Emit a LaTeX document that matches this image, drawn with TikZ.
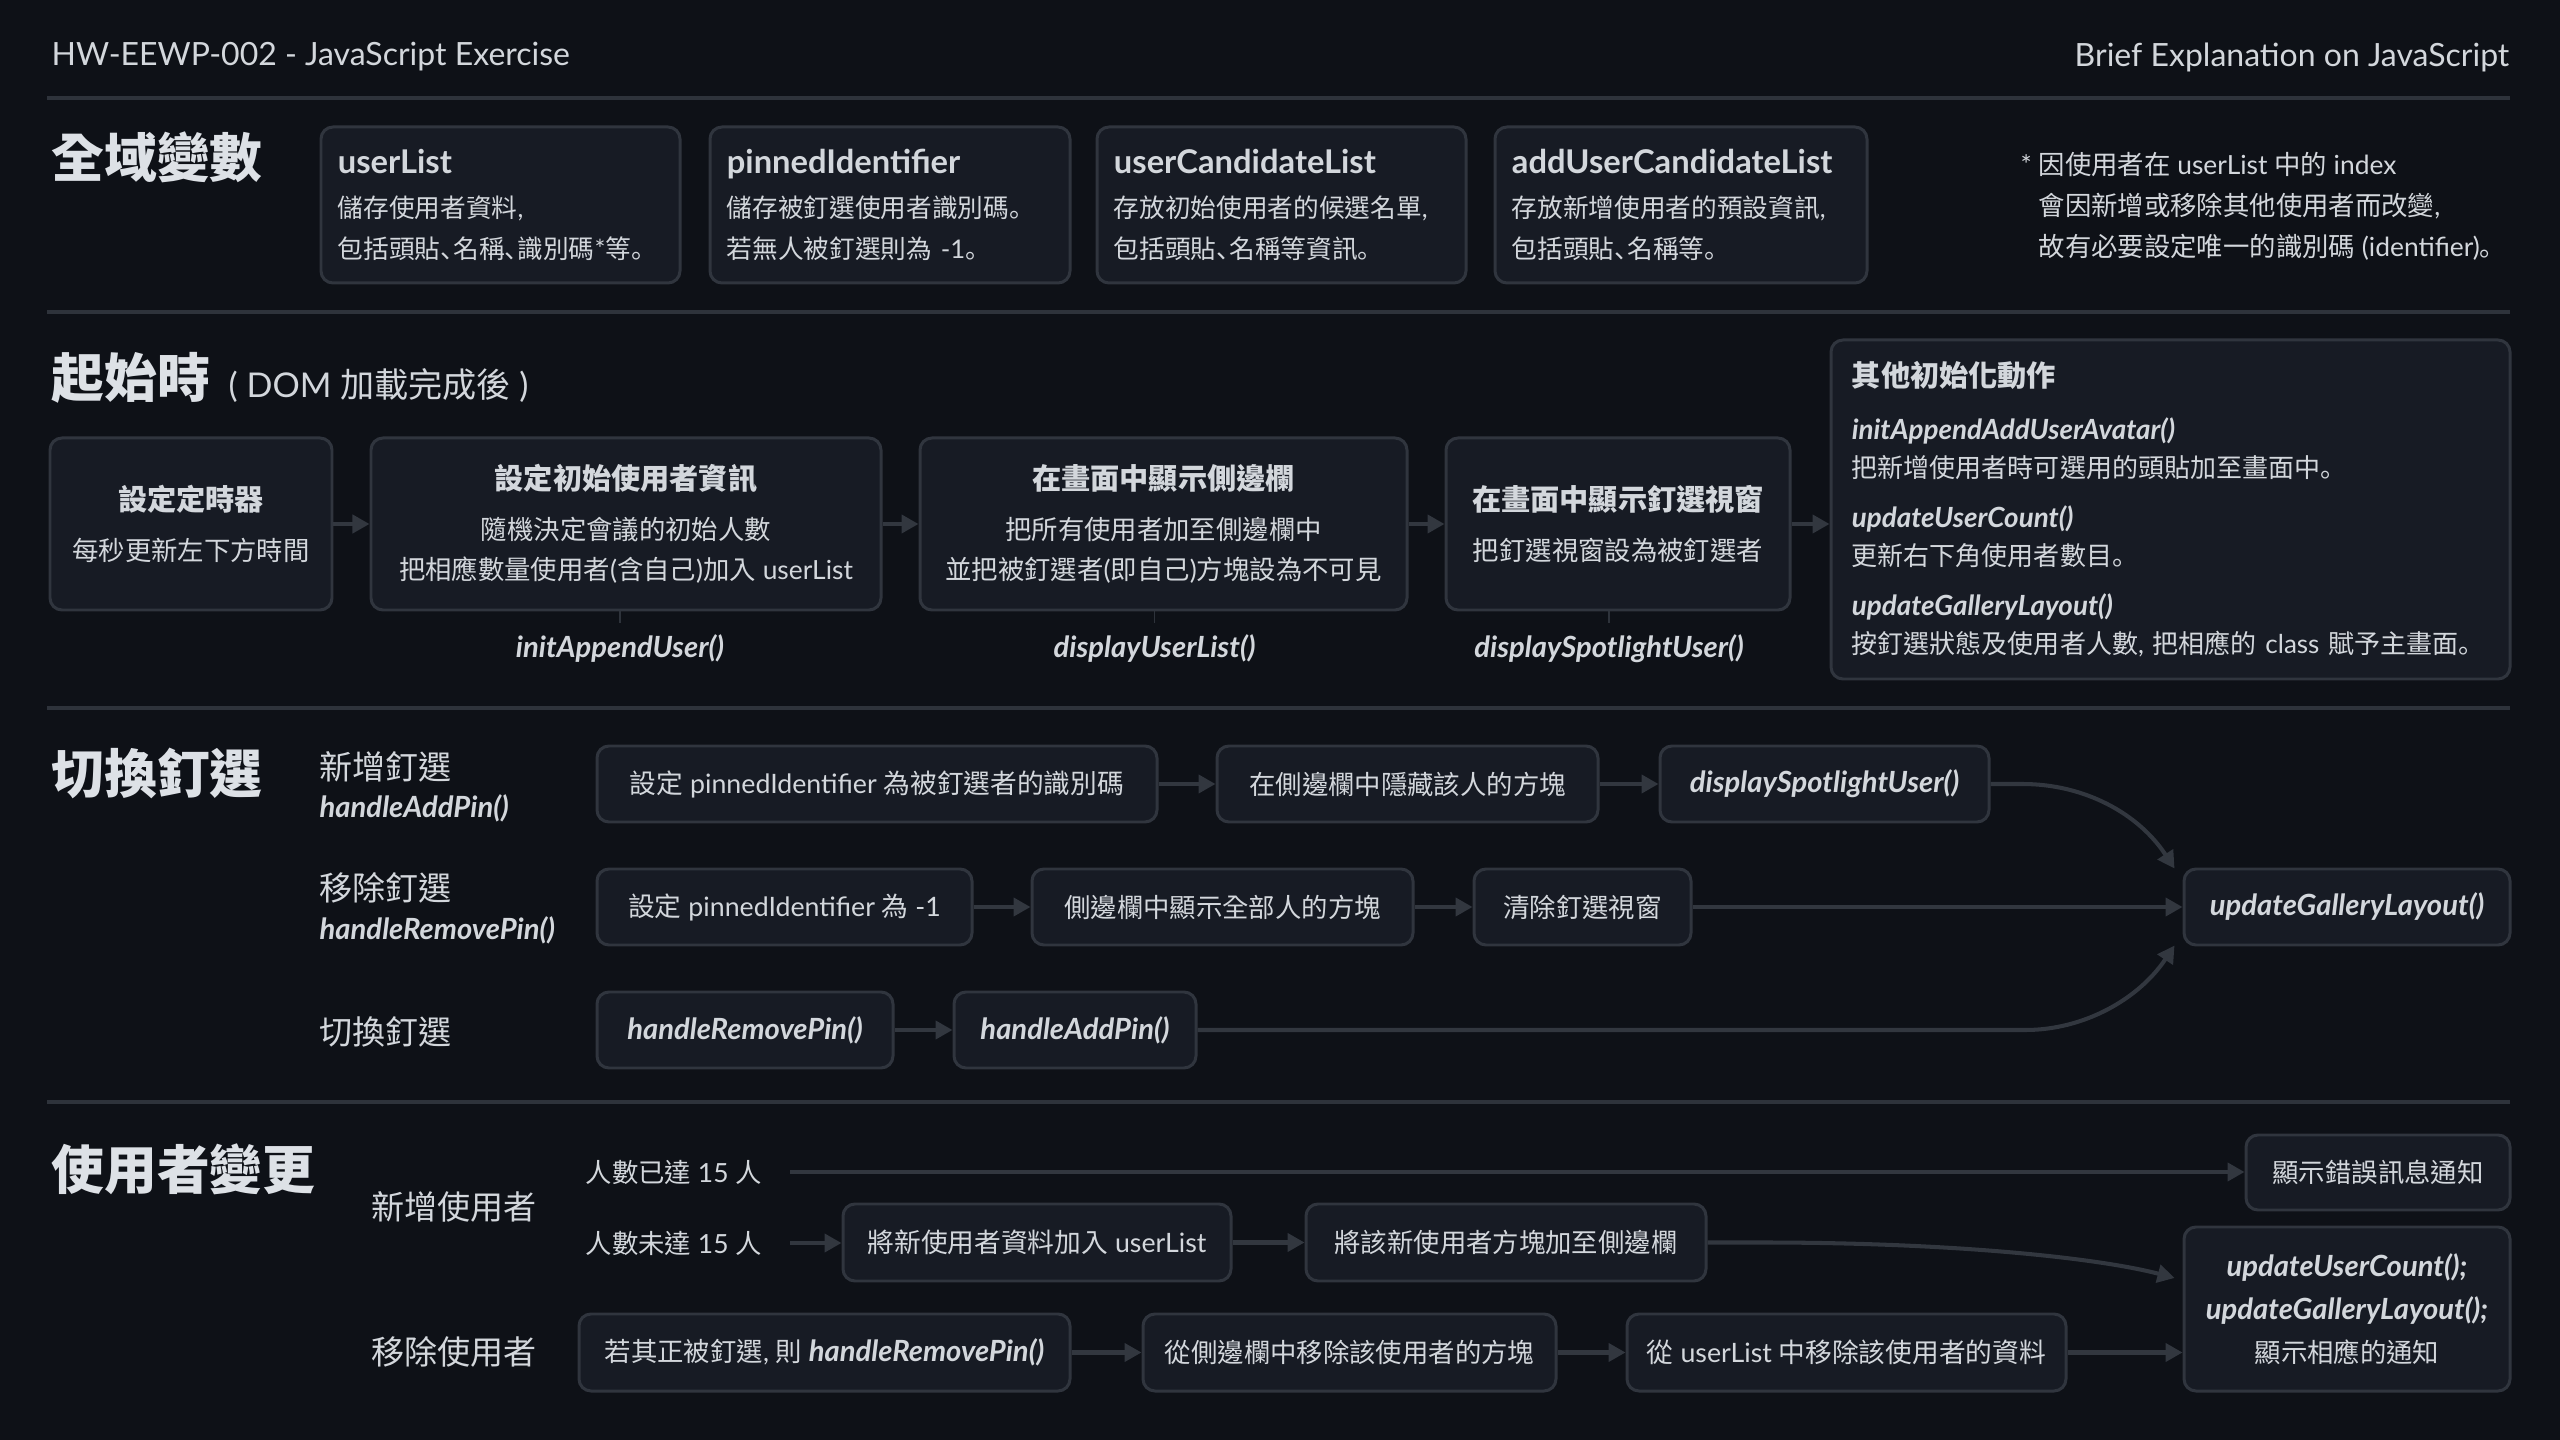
\documentclass[tikz,border=0pt]{standalone}
\usepackage{fontspec}
\setmainfont{Lato}
\newfontfamily\cjkfont{Noto Sans CJK TC}
\newfontfamily\cjkpfont{Noto Sans CJK SC}[RawFeature=+halt]
\usetikzlibrary{arrows.meta,calc}
% automatic switch to the CJK fonts for CJK characters
\XeTeXinterchartokenstate=1
\newXeTeXintercharclass\mycjk
\newXeTeXintercharclass\mycjkp
\newcount\cjkc
\cjkc="2E80 \loop\XeTeXcharclass\cjkc=\mycjk \ifnum\cjkc<"9FFF \advance\cjkc by 1 \repeat
\cjkc="FF00 \loop\XeTeXcharclass\cjkc=\mycjk \ifnum\cjkc<"FFEF \advance\cjkc by 1 \repeat
\cjkc="3000 \loop\XeTeXcharclass\cjkc=\mycjkp \ifnum\cjkc<"303F \advance\cjkc by 1 \repeat
\XeTeXinterchartoks 0 \mycjk = {\begingroup\cjkfont}
\XeTeXinterchartoks 4095 \mycjk = {\begingroup\cjkfont}
\XeTeXinterchartoks \mycjk 0 = {\endgroup}
\XeTeXinterchartoks \mycjk 4095 = {\endgroup}
\XeTeXinterchartoks 0 \mycjkp = {\begingroup\cjkpfont}
\XeTeXinterchartoks 4095 \mycjkp = {\begingroup\cjkpfont}
\XeTeXinterchartoks \mycjkp 0 = {\endgroup}
\XeTeXinterchartoks \mycjkp 4095 = {\endgroup}
\XeTeXinterchartoks \mycjk \mycjkp = {\endgroup\begingroup\cjkpfont}
\XeTeXinterchartoks \mycjkp \mycjk = {\endgroup\begingroup\cjkfont}
\newcommand\fsz[2]{\fontsize{#1}{#2}\selectfont}
\definecolor{bg}{HTML}{0E1117}
\definecolor{bx}{HTML}{171B24}
\definecolor{bd}{HTML}{30353E}
\definecolor{ar}{HTML}{32373F}
\definecolor{rl}{HTML}{2E333B}
\definecolor{tx}{HTML}{D3D7DC}
\definecolor{tt}{HTML}{DDE1E6}
\begin{document}
\begin{tikzpicture}[x=0.01cm,y=-0.01cm,
  every node/.style={text=tx, inner sep=0pt},
  sz/.style 2 args={minimum width=#1*0.01cm, minimum height=#2*0.01cm},
  box/.style={draw=bd, fill=bx, line width=0.85pt, rounded corners=0.12cm, align=center, font=\fsz{7.5pt}{11pt}},
  fnbox/.style={box, font=\fsz{8.3pt}{10pt}\bfseries\itshape},
  arr/.style={draw=ar, line width=1.15pt, -{Triangle[length=0.17cm,width=0.18cm]}},
  rule/.style={draw=rl, line width=1.2pt},
  tick/.style={draw=rl, line width=0.5pt},
  fn/.style={font=\fsz{8.3pt}{10pt}\bfseries\itshape},
  sect/.style={anchor=west, font=\fsz{15pt}{18pt}\bfseries, text=tt},
  lbl/.style={anchor=west, font=\fsz{9.4pt}{12pt}},
  sm/.style={anchor=west, font=\fsz{7.5pt}{10pt}},
  gv/.style={box, align=left, font=\fsz{7.3pt}{11.7pt}},
  gvt/.style={},
]
\useasboundingbox (0,0) rectangle (2560,1440);
\fill[bg] (0,0) rectangle (2560,1440);

% header
\node[anchor=west, font=\fsz{9.1pt}{11pt}] (hl) at (51,57) {HW-EEWP-002 - JavaScript Exercise};
\node[anchor=east, font=\fsz{9.1pt}{11pt}] (hr) at (2510,57) {Brief Explanation on JavaScript};
\draw[rule] (47,98) -- (2510,98);
\draw[rule] (47,312) -- (2510,312);
\draw[rule] (47,708) -- (2510,708);
\draw[rule] (47,1102) -- (2510,1102);

% ---- section 1
\node[sect] (t1) at (51,157) {全域變數};
\node[gv, sz={359}{156}, text width=3.25cm] (gv1) at (500.5,205)
  {{\fsz{9.3pt}{11.7pt}\bfseries userList}\\[0.6pt]儲存使用者資料,\\包括頭貼、名稱、識別碼*等。};
\node[gv, sz={360}{156}, text width=3.26cm] (gv2) at (890,205)
  {{\fsz{9.3pt}{11.7pt}\bfseries pinnedIdentifier}\\[0.6pt]儲存被釘選使用者識別碼。\\若無人被釘選則為 -1。};
\node[gv, sz={369}{156}, text width=3.35cm] (gv3) at (1281.5,205)
  {{\fsz{9.3pt}{11.7pt}\bfseries userCandidateList}\\[0.6pt]存放初始使用者的候選名單,\\包括頭貼、名稱等資訊。};
\node[gv, sz={372}{156}, text width=3.38cm] (gv4) at (1681,205)
  {{\fsz{9.3pt}{11.7pt}\bfseries addUserCandidateList}\\[0.6pt]存放新增使用者的預設資訊,\\包括頭貼、名稱等。};
\node[anchor=west, align=left, font=\fsz{7.5pt}{11.7pt}] (note) at (2020,206)
  {* 因使用者在 userList 中的 index\\\hphantom{*} 會因新增或移除其他使用者而改變,\\\hphantom{*} 故有必要設定唯一的識別碼 (identifier)。};

% ---- section 2
\node[anchor=base west, font=\fsz{15pt}{18pt}\bfseries, text=tt] (t2) at (51,398) {起始時};
\node[anchor=base west, font=\fsz{9.7pt}{12pt}] (t2b) at (228,398) {( DOM 加載完成後 )};
\node[box, sz={282}{172}, font=\fsz{7.5pt}{14.2pt}] (s1) at (191,524)
  {{\fsz{8.3pt}{14.2pt}\bfseries 設定定時器}\\每秒更新左下方時間};
\node[box, sz={510}{172}, font=\fsz{7.5pt}{11.4pt}] (s2) at (626,524)
  {{\fsz{8.3pt}{11.4pt}\bfseries 設定初始使用者資訊}\\[2.8pt]隨機決定會議的初始人數\\把相應數量使用者(含自己)加入 userList};
\node[box, sz={487}{172}, font=\fsz{7.5pt}{11.4pt}] (s3) at (1163.5,524)
  {{\fsz{8.3pt}{11.4pt}\bfseries 在畫面中顯示側邊欄}\\[2.8pt]把所有使用者加至側邊欄中\\並把被釘選者(即自己)方塊設為不可見};
\node[box, sz={344}{172}, font=\fsz{7.5pt}{14.2pt}] (s4) at (1618,524)
  {{\fsz{8.3pt}{14.2pt}\bfseries 在畫面中顯示釘選視窗}\\把釘選視窗設為被釘選者};
\node[box, sz={679}{339}, align=left, text width=6.37cm, font=\fsz{7.4pt}{10.8pt}] (s5) at (2170.5,509.5)
  {{\fsz{8.3pt}{10.8pt}\bfseries 其他初始化動作}\\[4.3pt]
   {\fsz{7.9pt}{10.8pt}\bfseries\itshape initAppendAddUserAvatar()}\\
   把新增使用者時可選用的頭貼加至畫面中。\\[3.4pt]
   {\fsz{7.9pt}{10.8pt}\bfseries\itshape updateUserCount()}\\
   更新右下角使用者數目。\\[3.4pt]
   {\fsz{7.9pt}{10.8pt}\bfseries\itshape updateGalleryLayout()}\\
   按釘選狀態及使用者人數, 把相應的 class 賦予主畫面。};
\draw[arr] (s1) -- (s2);
\draw[arr] (s2) -- (s3);
\draw[arr] (s3) -- (s4);
\draw[arr] (s4.east) -- (s4.east -| s5.west);
\coordinate (k2) at ($(s2.south)+(-6,0)$);
\coordinate (k3) at ($(s3.south)+(-9,0)$);
\coordinate (k4) at ($(s4.south)+(-9,0)$);
\draw[tick] (k2) -- ++(0,12);
\draw[tick] (k3) -- ++(0,12);
\draw[tick] (k4) -- ++(0,12);
\node[fn] (f2) at ($(k2)+(0,37)$) {initAppendUser()};
\node[fn] (f3) at ($(k3)+(0,37)$) {displayUserList()};
\node[fn] (f4) at ($(k4)+(0,37)$) {displaySpotlightUser()};

% ---- section 3
\node[sect] (t3) at (51,773) {切換釘選};
\node[lbl] (l1) at (319,767) {新增釘選};
\node[fn, anchor=west] (l1f) at (319,808) {handleAddPin()};
\node[lbl] (l2) at (319,888) {移除釘選};
\node[fn, anchor=west] (l2f) at (319,930) {handleRemovePin()};
\node[lbl] (l3) at (319,1032) {切換釘選};

\node[box, sz={560}{76}, font=\fsz{7.6pt}{11pt}] (a1) at (877,784) {設定 pinnedIdentifier 為被釘選者的識別碼};
\node[box, sz={381}{76}] (a2) at (1407.5,784) {在側邊欄中隱藏該人的方塊};
\node[fnbox, sz={329}{76}] (a3) at (1824.5,784) {displaySpotlightUser()};
\node[box, sz={375}{76}, font=\fsz{7.6pt}{11pt}] (b1) at (784.5,907) {設定 pinnedIdentifier 為 -1};
\node[box, sz={381}{76}] (b2) at (1222.5,907) {側邊欄中顯示全部人的方塊};
\node[box, sz={217}{76}] (b3) at (1582.5,907) {清除釘選視窗};
\node[fnbox, sz={326}{76}] (ugl) at (2347,907) {updateGalleryLayout()};
\node[fnbox, sz={296}{76}] (c1) at (745,1030) {handleRemovePin()};
\node[fnbox, sz={242}{76}] (c2) at (1075,1030) {handleAddPin()};
\draw[arr] (a1) -- (a2);
\draw[arr] (a2) -- (a3);
\draw[arr] (b1) -- (b2);
\draw[arr] (b2) -- (b3);
\draw[arr] (b3) -- (ugl);
\draw[arr] (c1) -- (c2);
\draw[arr] (a3.east) -- ++(32,0) .. controls +(62,0) and ($(ugl.north west)+(-44,-54)$) .. ($(ugl.north west)+(-8,1)$);
\draw[arr] (c2.east) -- ($(c2.east -| a3.east)+(35,0)$) .. controls +(58,0) and ($(ugl.south west)+(-44,53)$) .. ($(ugl.south west)+(-8,-1)$);

% ---- section 4
\node[sect] (t4) at (51,1169) {使用者變更};
\node[lbl] (m1) at (371,1207) {新增使用者};
\node[lbl] (m2) at (371,1352) {移除使用者};
\node[sm] (n1) at (585,1172) {人數已達 15 人};
\node[sm] (n2) at (585,1243) {人數未達 15 人};
\node[box, sz={264}{75}] (err) at (2378,1172.5) {顯示錯誤訊息通知};
\node[box, sz={388}{77}, font=\fsz{7.6pt}{11pt}] (d1) at (1037,1242.5) {將新使用者資料加入 userList};
\node[box, sz={400}{77}] (d2) at (1506,1242.5) {將該新使用者方塊加至側邊欄};
\node[box, sz={326}{164}, font=\fsz{7.5pt}{12.2pt}] (fin) at (2347,1309)
  {{\fsz{8.3pt}{12.2pt}\bfseries\itshape updateUserCount();}\\{\fsz{8.3pt}{12.2pt}\bfseries\itshape updateGalleryLayout();}\\顯示相應的通知};
\node[box, sz={491}{77}] (e1) at (824.5,1352.5) {若其正被釘選, 則 {\fsz{8.3pt}{10pt}\bfseries\itshape handleRemovePin()}};
\node[box, sz={413}{77}] (e2) at (1349.5,1352.5) {從側邊欄中移除該使用者的方塊};
\node[box, sz={439}{77}, font=\fsz{7.6pt}{11pt}] (e3) at (1846.5,1352.5) {從 userList 中移除該使用者的資料};
\draw[arr, shorten <=0.28cm] (n1.east) -- (n1.east -| err.west);
\draw[arr, shorten <=0.28cm] (n2.east) -- (n2.east -| d1.west);
\draw[arr] (d1) -- (d2);
\draw[arr] (d2.east) -- ++(54,0) .. controls +(200,0) and ($(fin.west)+(-80,-50)$) .. ($(fin.west)+(-8,-31)$);
\draw[arr] (e1) -- (e2);
\draw[arr] (e2) -- (e3);
\draw[arr] (e3.east) -- (e3.east -| fin.west);
\end{tikzpicture}
\end{document}
